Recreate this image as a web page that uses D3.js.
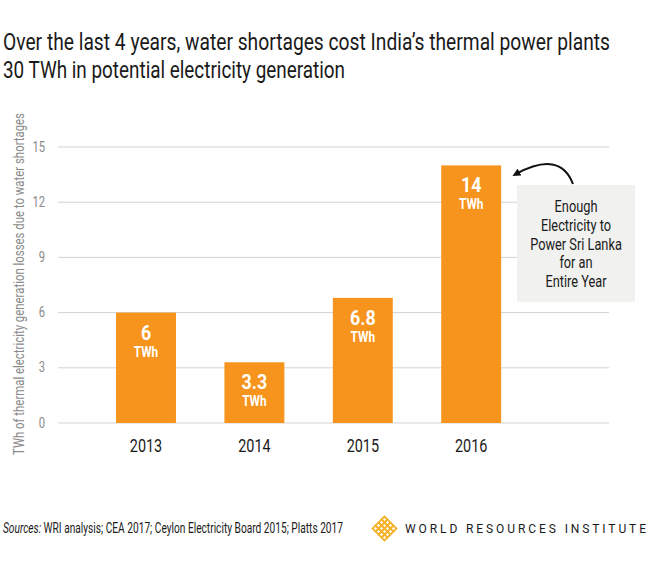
<!DOCTYPE html>
<html>
<head>
<meta charset="utf-8">
<script src="https://cdn.jsdelivr.net/npm/d3@7"></script>
<style>
  body { margin: 0; background: #fff; }
  text { font-family: Roboto, "Noto Sans", sans-serif; }
</style>
</head>
<body>
<svg id="chart" width="648" height="563"></svg>
<script>
const years = ['2013', '2014', '2015', '2016']
const values = [6, 3.3, 6.8, 14]
const valueLabels = ['6', '3.3', '6.8', '14']
const yTicks = [0, 3, 6, 9, 12, 15]
const titleLines = [
  'Over the last 4 years, water shortages cost India\u2019s thermal power plants',
  '30 TWh in potential electricity generation'
]
const noteLines = ['Enough', 'Electricity to', 'Power Sri Lanka', 'for an', 'Entire Year']

const svg = d3.select('#chart')
const orange = '#f7941d'
const squeeze = 0.8

// squashed text, since no condensed font is installed
function putText (g, x, y, str, opts) {
  const t = g.append('text')
    .attr('transform', `translate(${x},${y}) scale(${opts.k || squeeze},1)`)
    .attr('text-anchor', opts.anchor || 'start')
    .attr('font-size', opts.size)
    .attr('font-weight', opts.weight || 400)
    .attr('fill', opts.fill || '#222')
    .text(str)
  return t
}

// title
titleLines.forEach((line, i) => {
  svg.append('text')
    .attr('x', 3)
    .attr('y', 50 + i * 28)
    .attr('font-size', 24)
    .attr('fill', '#1a1a1a')
    .attr('textLength', i === 0 ? 607 : 342)
    .attr('lengthAdjust', 'spacingAndGlyphs')
    .text(line)
})

const x = d3.scaleBand()
  .domain(years)
  .range([91.8, 525.4])
  .paddingInner(0.447)
  .paddingOuter(0.2235)

const y = d3.scaleLinear()
  .domain([0, 15])
  .range([423, 147])

// grid
const grid = svg.append('g')
grid.selectAll('line')
  .data(yTicks)
  .join('line')
  .attr('x1', 58)
  .attr('x2', 609)
  .attr('y1', d => y(d))
  .attr('y2', d => y(d))
  .attr('stroke', '#d3d3d3')
  .attr('stroke-width', 1)

const yAxis = svg.append('g')
yTicks.forEach(d => {
  putText(yAxis, 45, y(d) + 4.5, String(d), { size: 14, anchor: 'end', fill: '#8a8a8a' })
})

// y label
svg.append('text')
  .attr('transform', 'translate(24,284) rotate(-90)')
  .attr('text-anchor', 'middle')
  .attr('font-size', 15)
  .attr('fill', '#8a8a8a')
  .attr('textLength', 342)
  .attr('lengthAdjust', 'spacingAndGlyphs')
  .text('TWh of thermal electricity generation losses due to water shortages')

// bars
svg.append('g').selectAll('rect')
  .data(values)
  .join('rect')
  .attr('x', (d, i) => x(years[i]))
  .attr('width', x.bandwidth())
  .attr('y', d => y(d))
  .attr('height', d => y(0) - y(d))
  .attr('fill', orange)

const labels = svg.append('g')
values.forEach((d, i) => {
  const cx = x(years[i]) + x.bandwidth() / 2
  putText(labels, cx, y(d) + 27, valueLabels[i], { size: 21, weight: 700, anchor: 'middle', fill: '#fff', k: 0.85 })
  putText(labels, cx, y(d) + 44, 'TWh', { size: 14, weight: 700, anchor: 'middle', fill: '#fff', k: 0.85 })
})

// x axis labels
const xAxis = svg.append('g')
years.forEach(yr => {
  putText(xAxis, x(yr) + x.bandwidth() / 2, 452, yr, { size: 18, anchor: 'middle', fill: '#1a1a1a' })
})

// annotation
svg.append('rect')
  .attr('x', 517)
  .attr('y', 185)
  .attr('width', 118)
  .attr('height', 117)
  .attr('fill', '#f1f1f0')

const note = svg.append('g')
noteLines.forEach((line, i) => {
  putText(note, 576, 212 + i * 18.8, line, { size: 16, anchor: 'middle', fill: '#1a1a1a' })
})

svg.append('defs').append('marker')
  .attr('id', 'head')
  .attr('viewBox', '0 0 10 10')
  .attr('refX', 5)
  .attr('refY', 5)
  .attr('markerWidth', 4)
  .attr('markerHeight', 4)
  .attr('orient', 'auto')
  .append('path')
  .attr('d', 'M0,0 L10,5 L0,10 z')
  .attr('fill', '#111')

svg.append('path')
  .attr('d', 'M573,184 Q560,150 516,174')
  .attr('fill', 'none')
  .attr('stroke', '#111')
  .attr('stroke-width', 2)
  .attr('marker-end', 'url(#head)')

// footer
const src = svg.append('text')
  .attr('x', 3)
  .attr('y', 533)
  .attr('font-size', 14)
  .attr('fill', '#1a1a1a')
  .attr('textLength', 340)
  .attr('lengthAdjust', 'spacingAndGlyphs')
src.append('tspan').attr('font-style', 'italic').text('Sources:')
src.append('tspan').text(' WRI analysis; CEA 2017; Ceylon Electricity Board 2015; Platts 2017')

// logo mark: diamond lattice
const logo = svg.append('g')
  .attr('transform', 'translate(384.5,528.5) rotate(45)')
const cells = d3.range(4)
cells.forEach(r => {
  cells.forEach(c => {
    logo.append('rect')
      .attr('x', -8.4 + c * 4.2)
      .attr('y', -8.4 + r * 4.2)
      .attr('width', 4.2)
      .attr('height', 4.2)
      .attr('fill', 'none')
      .attr('stroke', '#f6b12b')
      .attr('stroke-width', 1.8)
  })
})

svg.append('text')
  .attr('x', 405)
  .attr('y', 533)
  .attr('font-family', '"Liberation Serif", "DejaVu Serif", serif')
  .attr('font-size', 12)
  .attr('fill', '#1a1a1a')
  .attr('textLength', 241)
  .attr('lengthAdjust', 'spacing')
  .text('WORLD RESOURCES INSTITUTE')
</script>
</body>
</html>
